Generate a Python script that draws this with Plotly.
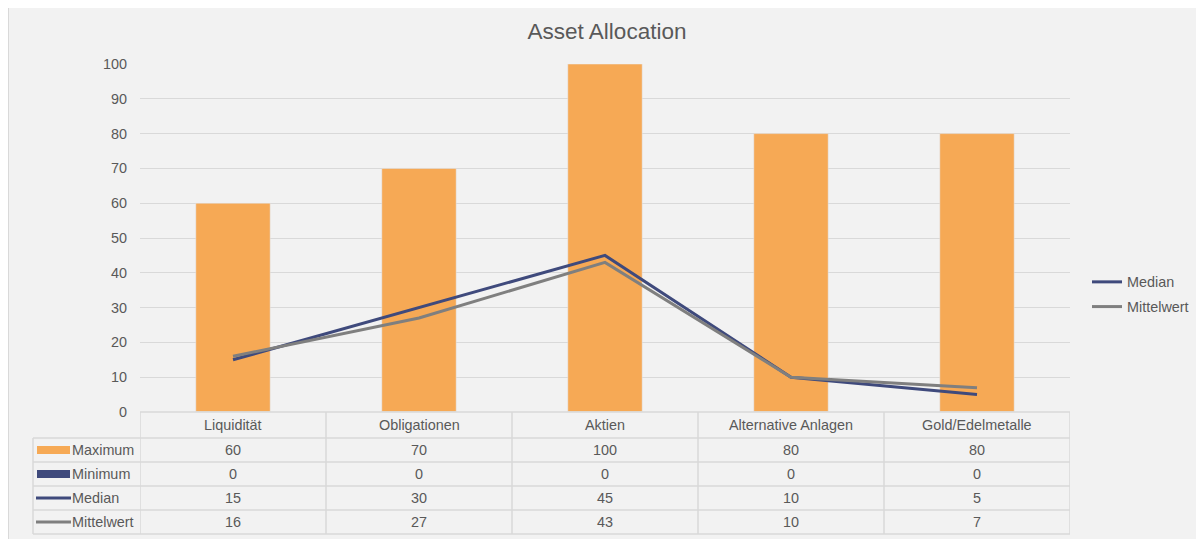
import plotly.graph_objects as go

categories = ["Liquidität", "Obligationen", "Aktien", "Alternative Anlagen", "Gold/Edelmetalle"]
maximum = [60, 70, 100, 80, 80]
minimum = [0, 0, 0, 0, 0]
median = [15, 30, 45, 10, 5]
mittelwert = [16, 27, 43, 10, 7]
series_names = ["Maximum", "Minimum", "Median", "Mittelwert"]
y_ticks = [0, 10, 20, 30, 40, 50, 60, 70, 80, 90, 100]

ORANGE = "#F6A955"
NAVY = "#3F4A7C"
GRAY = "#7F7F7F"
TEXT = "#595959"
GRID = "#D9D9D9"
FONT = "Liberation Sans, Arial, sans-serif"
FS = 14.4

OFF = 8  # page body margin offset
W, H = 1204 - OFF, 539 - OFF
# plot area in window pixels
L, R, T, B = 140, 1070, 64, 412


def px(x):
    return (x - L) / (R - L)


def py(y):
    return (B - y) / (B - T)


fig = go.Figure()
fig.add_trace(go.Bar(x=categories, y=maximum, name="Maximum", marker_color=ORANGE,
                     width=0.4, showlegend=False))
fig.add_trace(go.Bar(x=categories, y=minimum, name="Minimum", marker_color=NAVY,
                     width=0.4, showlegend=False))
fig.add_trace(go.Scatter(x=categories, y=median, name="Median", mode="lines",
                         legendgroup="med", line=dict(color=NAVY, width=3)))
fig.add_trace(go.Scatter(x=categories, y=mittelwert, name="Mittelwert", mode="lines",
                         legendgroup="mit", line=dict(color=GRAY, width=3)))

shapes = []
annotations = []

# outer chart border/background
shapes.append(dict(type="rect", xref="paper", yref="paper", x0=px(8.5), x1=px(1215),
                   y0=py(550), y1=py(5), fillcolor="#F2F2F2",
                   line=dict(color=GRID, width=1), layer="below"))

# data table
row_tops = [412, 438, 462, 486, 510, 534]
tbl_left = 33
shapes.append(dict(type="line", xref="x", yref="paper", x0=-0.5, x1=4.5,
                   y0=py(412), y1=py(412), line=dict(color=GRID, width=1.5)))
for yy in row_tops[1:]:
    shapes.append(dict(type="line", xref="paper", yref="paper", x0=px(tbl_left), x1=1,
                       y0=py(yy), y1=py(yy), line=dict(color=GRID, width=1.5)))
for i in range(len(categories) + 1):
    shapes.append(dict(type="line", xref="x", yref="paper", x0=i - 0.5, x1=i - 0.5,
                       y0=py(412), y1=py(534), line=dict(color=GRID, width=1.5)))
shapes.append(dict(type="line", xref="paper", yref="paper", x0=px(tbl_left), x1=px(tbl_left),
                   y0=py(438), y1=py(534), line=dict(color=GRID, width=1.5)))

tfont = dict(size=FS, color=TEXT, family=FONT)
for c in categories:
    annotations.append(dict(x=c, xref="x", y=py(425), yref="paper", text=c,
                            xanchor="center", yanchor="middle", showarrow=False, font=tfont))

table_rows = [maximum, minimum, median, mittelwert]
for r, (name, vals) in enumerate(zip(series_names, table_rows)):
    yc = (row_tops[r + 1] + row_tops[r + 2]) / 2
    for c, v in zip(categories, vals):
        annotations.append(dict(x=c, xref="x", y=py(yc), yref="paper", text=str(v),
                                xanchor="center", yanchor="middle", showarrow=False, font=tfont))
    annotations.append(dict(x=px(70), xref="paper", y=py(yc), yref="paper", text=name,
                            xanchor="left", yanchor="middle", showarrow=False, font=tfont))
    if r < 2:
        col = ORANGE if r == 0 else NAVY
        shapes.append(dict(type="rect", xref="paper", yref="paper", x0=px(37), x1=px(70),
                           y0=py(yc + 4), y1=py(yc - 4), fillcolor=col, line=dict(width=0)))
    else:
        col = NAVY if r == 2 else GRAY
        shapes.append(dict(type="line", xref="paper", yref="paper", x0=px(36), x1=px(71),
                           y0=py(yc), y1=py(yc), line=dict(color=col, width=3)))

fig.update_layout(
    width=W, height=H,
    margin=dict(l=L - OFF, r=1204 - R, t=T - OFF, b=539 - B, pad=0, autoexpand=False),
    paper_bgcolor="white",
    plot_bgcolor="rgba(0,0,0,0)",
    barmode="overlay",
    font=dict(family=FONT, size=FS, color=TEXT),
    title=dict(text="Asset Allocation", x=(607 - OFF) / W, xanchor="center",
               y=1 - (31 - OFF) / H, yanchor="middle",
               font=dict(size=22.5, color=TEXT, family=FONT)),
    xaxis=dict(range=[-0.5, 4.5], showticklabels=False, showgrid=False, zeroline=False,
               showline=False, ticks=""),
    yaxis=dict(range=[0, 100], tickvals=y_ticks, showgrid=True, gridcolor=GRID, gridwidth=1,
               zeroline=False, showline=False, ticks="", ticklabelstandoff=12,
               tickfont=tfont),
    legend=dict(x=px(1087), xanchor="left", y=py(294.5), yanchor="middle",
                bgcolor="rgba(0,0,0,0)", font=tfont, itemwidth=30, tracegroupgap=3),
    shapes=shapes,
    annotations=annotations,
)

fig.write_html("out.html")
